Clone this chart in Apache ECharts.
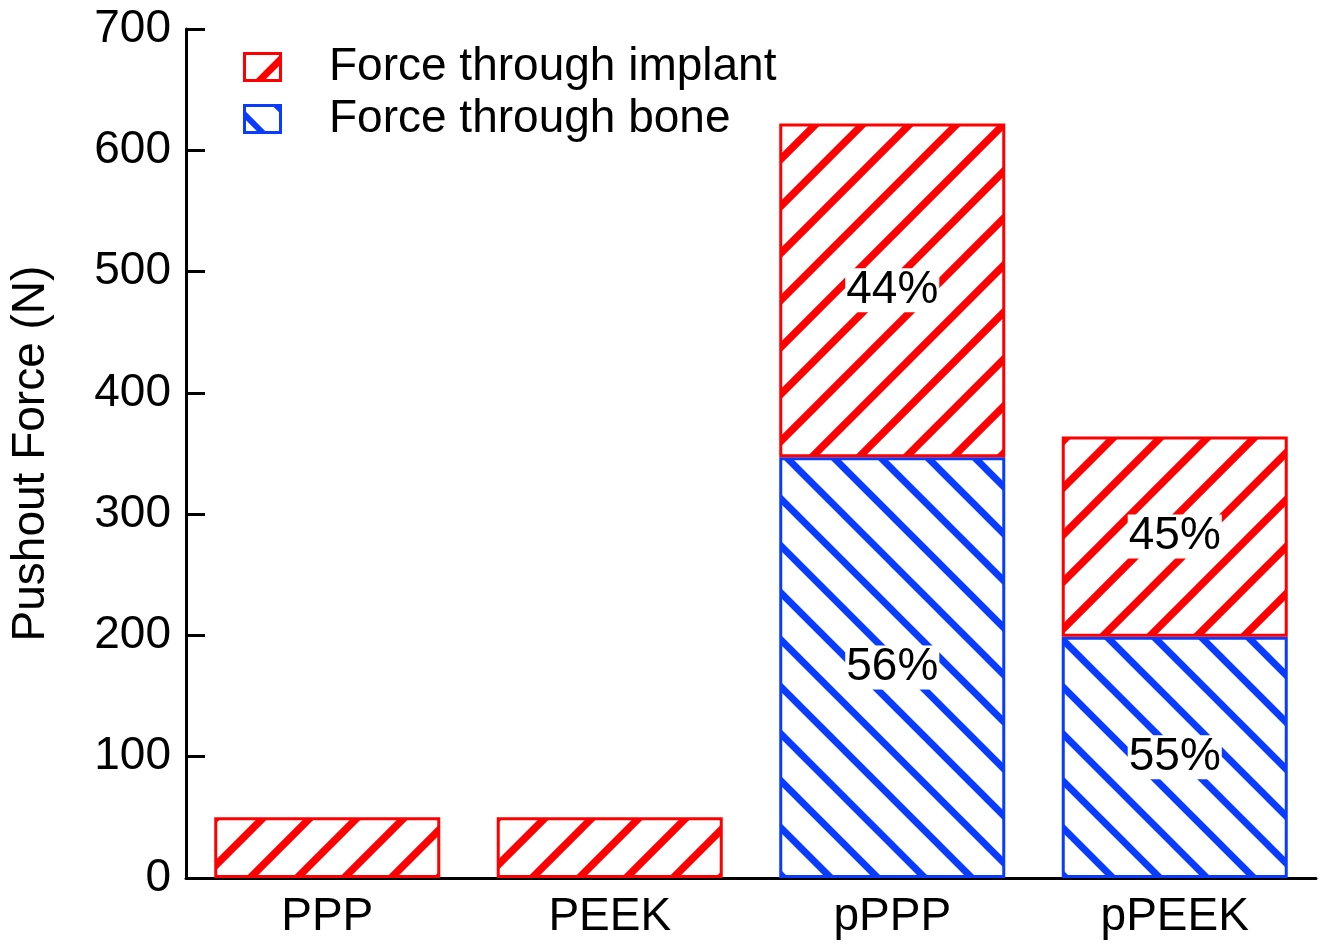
<!DOCTYPE html>
<html>
<head>
<meta charset="utf-8">
<script src="https://cdn.jsdelivr.net/npm/echarts@6/dist/echarts.min.js"></script>
<style>
html,body{margin:0;padding:0;background:#fff;}
#chart{width:1327px;height:944px;}
</style>
</head>
<body>
<div id="chart"></div>
<script>
const categories = ['PPP', 'PEEK', 'pPPP', 'pPEEK'];
const implantForce = [50, 50, 275, 165];
const boneForce = ['-', '-', 347, 199];
const implantPct = ['', '', '44%', '45%'];
const bonePct = ['', '', '56%', '55%'];
const seriesNames = ['Force through implant', 'Force through bone'];

const FONT = '"Liberation Sans", Arial, Helvetica, sans-serif';
const RED = '#ff0000';
const BLUE = '#0a3cff';

function hatch(color, lw, dir) {
  const s = 47;
  const c = document.createElement('canvas');
  c.width = s; c.height = s;
  const g = c.getContext('2d');
  g.fillStyle = '#fff';
  g.fillRect(0, 0, s, s);
  g.strokeStyle = color;
  g.lineWidth = lw;
  g.beginPath();
  if (dir === '/') {
    [0, s, 2 * s].forEach(C => { g.moveTo(-s, C + s); g.lineTo(2 * s, C - 2 * s); });
  } else {
    [-s, 0, s].forEach(C => { g.moveTo(-s, C - s); g.lineTo(2 * s, C + 2 * s); });
  }
  g.stroke();
  return c;
}

function legendIcon(color, kind) {
  const w = 39, h = 30;
  const c = document.createElement('canvas');
  c.width = w; c.height = h;
  const g = c.getContext('2d');
  g.fillStyle = '#fff';
  g.fillRect(0, 0, w, h);
  g.save();
  g.beginPath(); g.rect(0, 0, w, h); g.clip();
  g.strokeStyle = color;
  g.beginPath();
  if (kind === '/') {
    g.lineWidth = 7;
    g.moveTo(12, 33); g.lineTo(44, 1);
  } else {
    g.lineWidth = 6;
    g.moveTo(-4, 5); g.lineTo(22, 31);
    g.moveTo(29, -3); g.lineTo(42, 10);
  }
  g.stroke();
  g.restore();
  g.lineWidth = 3;
  g.strokeStyle = color;
  g.strokeRect(1.5, 1.5, w - 3, h - 3);
  return 'image://' + c.toDataURL();
}

const redPattern = { image: hatch(RED, 7.5, '/'), repeat: 'repeat' };
const bluePattern = { image: hatch(BLUE, 7, '\\'), repeat: 'repeat' };

const chart = echarts.init(document.getElementById('chart'), null, { renderer: 'canvas' });

const labelCommon = {
  show: true,
  position: 'inside',
  color: '#000',
  fontFamily: FONT,
  fontSize: 46,
  backgroundColor: '#fff',
  padding: [0, 1],
  lineHeight: 44
};

chart.setOption({
  animation: false,
  backgroundColor: '#fff',
  textStyle: { fontFamily: FONT },
  grid: { left: 182, right: 11, top: 29, bottom: 66 },
  legend: {
    orient: 'vertical',
    left: 238,
    top: 39,
    itemWidth: 39,
    itemHeight: 30,
    itemGap: 6,
    data: [
      { name: seriesNames[0], icon: legendIcon(RED, '/') },
      { name: seriesNames[1], icon: legendIcon(BLUE, '\\') }
    ],
    textStyle: { fontFamily: FONT, fontSize: 46, color: '#000', padding: [0, 0, 0, 42] },
    selectedMode: false
  },
  xAxis: {
    type: 'category',
    data: categories,
    axisLine: { lineStyle: { color: '#000', width: 3 } },
    axisTick: { inside: true, length: 19, lineStyle: { color: '#000', width: 3 } },
    axisLabel: { color: '#000', fontFamily: FONT, fontSize: 46, margin: 16 }
  },
  yAxis: {
    type: 'value',
    min: 0,
    max: 700,
    interval: 100,
    name: 'Pushout Force (N)',
    nameLocation: 'middle',
    nameRotate: 90,
    nameGap: 132,
    nameTextStyle: { color: '#000', fontFamily: FONT, fontSize: 46 },
    splitLine: { show: false },
    axisLine: { show: true, lineStyle: { color: '#000', width: 3 } },
    axisTick: { show: true, inside: true, length: 19, lineStyle: { color: '#000', width: 3 } },
    axisLabel: { color: '#000', fontFamily: FONT, fontSize: 46, margin: 15 }
  },
  series: [
    {
      name: seriesNames[1],
      type: 'bar',
      stack: 'total',
      barWidth: '80%',
      data: boneForce,
      itemStyle: { color: bluePattern, borderColor: BLUE, borderWidth: 3 },
      label: Object.assign({}, labelCommon, { formatter: p => bonePct[p.dataIndex] })
    },
    {
      name: seriesNames[0],
      type: 'bar',
      stack: 'total',
      barWidth: '80%',
      data: implantForce,
      itemStyle: { color: redPattern, borderColor: RED, borderWidth: 3 },
      label: Object.assign({}, labelCommon, { formatter: p => implantPct[p.dataIndex] })
    }
  ]
});
</script>
</body>
</html>
